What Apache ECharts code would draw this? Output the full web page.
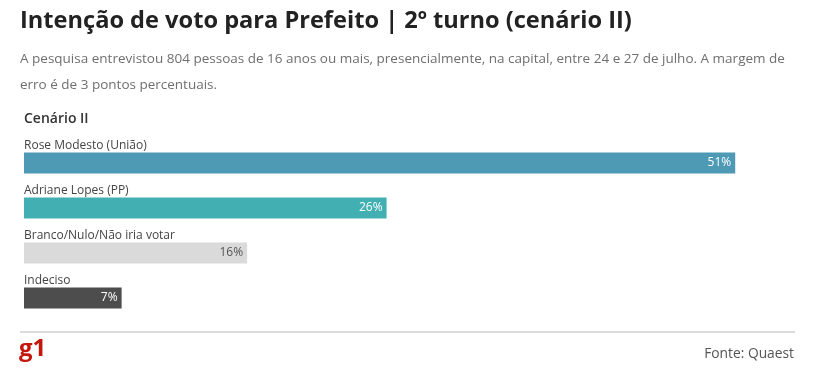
<!DOCTYPE html>
<html><head><meta charset="utf-8">
<script src="https://cdn.jsdelivr.net/npm/echarts@6/dist/echarts.min.js"></script>
<style>html,body{margin:0;padding:0;background:#fff}#c{width:819px;height:392px}</style>
</head><body><div id="c"></div>
<script>
const categories = ['Rose Modesto (União)', 'Adriane Lopes (PP)', 'Branco/Nulo/Não iria votar', 'Indeciso'];
const values = [51, 26, 16, 7];
const barColors = ['#4e9ab5', '#42b0b3', '#dadada', '#4d4d4d'];
const labelColors = ['#ffffff', '#ffffff', '#555555', '#ffffff'];

const F = '"Open Sans", sans-serif';
const chart = echarts.init(document.getElementById('c'), null, {renderer: 'canvas'});
chart.setOption({
  animation: false,
  title: [
    {text: 'Intenção de voto para Prefeito | 2º turno (cenário II)', left: 15, top: 4,
     textStyle: {fontFamily: F, fontSize: 23.6, fontWeight: 'bold', color: '#222'}},
    {text: 'A pesquisa entrevistou 804 pessoas de 16 anos ou mais, presencialmente, na capital, entre 24 e 27 de julho. A margem de\nerro é de 3 pontos percentuais.',
     left: 15, top: 41,
     textStyle: {fontFamily: F, fontSize: 13.5, fontWeight: 'normal', color: '#6f6f6f', lineHeight: 26}},
    {text: 'Cenário II', left: 19, top: 107,
     textStyle: {fontFamily: F, fontSize: 14, fontWeight: 600, color: '#333'}},
    {text: 'Fonte: Quaest', right: 20, top: 342,
     textStyle: {fontFamily: F, fontSize: 13.8, fontWeight: 'normal', color: '#555'}}
  ],
  graphic: [
    {type: 'rect', shape: {x: 20, y: 331, width: 775, height: 2}, style: {fill: '#dcdcdc'}},
    {type: 'text', left: 19, top: 337, style: {text: 'g1', fontFamily: F, fontSize: 24, fontWeight: 'bold', fill: '#c4170c'}}
  ],
  grid: {left: 24, top: 140.5, width: 767, height: 180},
  xAxis: {type: 'value', min: 0, max: 55, show: false},
  yAxis: {type: 'category', data: categories, inverse: true, show: false},
  series: [
    {type: 'bar', barWidth: 21,
     data: values.map((v, i) => ({value: v, itemStyle: {color: barColors[i]},
       label: {color: labelColors[i]}})),
     label: {show: true, position: 'insideRight', distance: 4, formatter: '{c}%',
       fontFamily: F, fontSize: 12}},
    {type: 'bar', barWidth: 21, barGap: '-100%', data: values,
     itemStyle: {color: 'rgba(0,0,0,0)'}, silent: true,
     label: {show: true, position: [0, -1], verticalAlign: 'bottom', align: 'left',
       formatter: '{b}', fontFamily: F, fontSize: 12, color: '#444'}}
  ]
});
</script></body></html>
